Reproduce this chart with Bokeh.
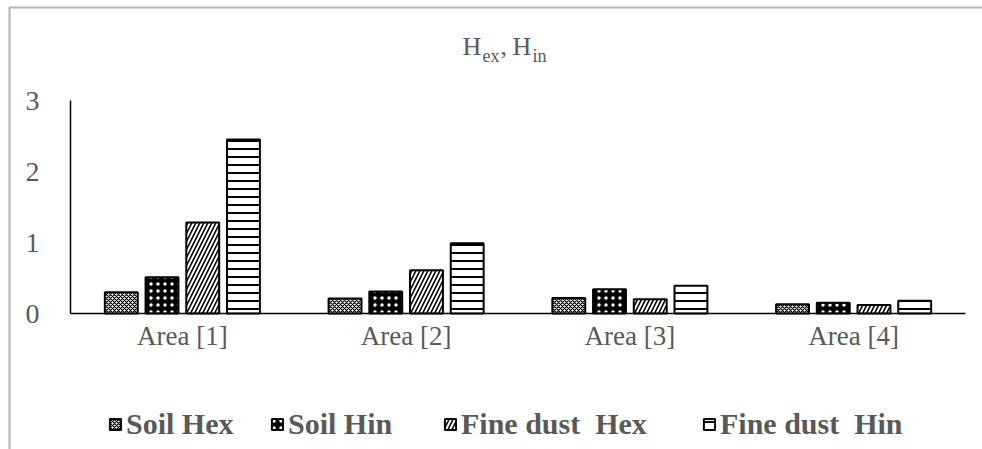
from bokeh.plotting import figure
from bokeh.models import (ColumnDataSource, Range1d, Legend, LegendItem,
                          Label, PolyAnnotation, FixedTicker)
from bokeh.transform import dodge
from bokeh.embed import file_html
from bokeh.resources import INLINE

areas = ["Area [1]", "Area [2]", "Area [3]", "Area [4]"]
soil_hex = [0.30, 0.21, 0.22, 0.13]
soil_hin = [0.51, 0.31, 0.34, 0.15]
fine_hex = [1.28, 0.61, 0.20, 0.12]
fine_hin = [2.45, 0.99, 0.39, 0.18]
series_names = ["Soil Hex", "Soil Hin", "Fine dust  Hex", "Fine dust  Hin"]
y_ticks = [0, 1, 2, 3]

xc = [i + 0.5 for i in range(len(areas))]
src = ColumnDataSource(dict(xc=xc, area=areas, soil_hex=soil_hex, soil_hin=soil_hin,
                            fine_hex=fine_hex, fine_hin=fine_hin))

FONT = "Liberation Serif"
GREY = "#595959"
W, H = 982, 449
# plot area (pixels) of the reference: x 70..965, y 100..313 (value 3..0)
px_x = (965 - 70) / len(areas)
px_y = (313 - 100) / 3.0

p = figure(width=W, height=H,
           x_range=Range1d(-70 / px_x, len(areas) + (W - 965) / px_x),
           y_range=Range1d(-(H - 313) / px_y, 3 + 100 / px_y),
           output_backend="svg", toolbar_location=None, min_border=0)
p.outline_line_color = None
p.xgrid.visible = False
p.ygrid.visible = False
p.background_fill_color = "white"
p.border_fill_color = "white"

styles = [
    dict(col="soil_hex", off=-0.273, fill_color="white", hatch_pattern="diagonal_cross",
         hatch_color="black", hatch_scale=4, hatch_weight=1.2),
    dict(col="soil_hin", off=-0.091, fill_color="black", hatch_pattern="dot",
         hatch_color="white", hatch_scale=7, hatch_weight=2),
    dict(col="fine_hex", off=0.091, fill_color="white", hatch_pattern="right_diagonal_line",
         hatch_color="black", hatch_scale=8, hatch_weight=1.6),
    dict(col="fine_hin", off=0.273, fill_color="white", hatch_pattern="horizontal_line",
         hatch_color="black", hatch_scale=8, hatch_weight=2),
]
# legend item positions (glyph left edge, px) as laid out in the reference
legend_x = [108, 270, 443, 702]
for name, st, lx in zip(series_names, styles, legend_x):
    r = p.vbar(x=dodge("xc", st["off"], range=p.x_range), top=st["col"], width=0.147,
               source=src, line_color="black", line_width=2,
               fill_color=st["fill_color"], hatch_pattern=st["hatch_pattern"],
               hatch_color=st["hatch_color"], hatch_scale=st["hatch_scale"],
               hatch_weight=st["hatch_weight"])
    lg = Legend(items=[LegendItem(label=name, renderers=[r])], location=(lx, 8),
                label_text_font=FONT, label_text_font_style="bold",
                label_text_font_size="30px", label_text_color=GREY,
                glyph_width=14, glyph_height=14, label_standoff=4,
                border_line_color=None, background_fill_alpha=0, margin=0, padding=0)
    p.add_layout(lg, "center")

# y axis
p.yaxis.fixed_location = 0
p.yaxis.bounds = (0, 3)
p.yaxis.ticker = FixedTicker(ticks=y_ticks)
p.yaxis.major_tick_line_color = None
p.yaxis.minor_tick_line_color = None
p.yaxis.axis_line_color = "black"
p.yaxis.axis_line_width = 1.5
p.yaxis.major_label_text_font = FONT
p.yaxis.major_label_text_font_size = "28px"
p.yaxis.major_label_text_color = GREY
p.yaxis.major_label_standoff = 25

# x axis (categories)
p.xaxis.fixed_location = 0
p.xaxis.bounds = (0, len(areas))
p.xaxis.ticker = FixedTicker(ticks=xc)
p.xaxis.major_label_overrides = {x: a for x, a in zip(xc, areas)}
p.xaxis.major_tick_line_color = None
p.xaxis.minor_tick_line_color = None
p.xaxis.axis_line_color = "black"
p.xaxis.axis_line_width = 1.5
p.xaxis.major_label_text_font = FONT
p.xaxis.major_label_text_font_size = "27px"
p.xaxis.major_label_text_color = GREY
p.xaxis.major_label_standoff = 1

# title "H_ex, H_in" with subscripts (screen units, frame == whole canvas)
title_parts = [("H", 462, 26, H - 46), ("ex", 482, 18, H - 55), (",", 500, 26, H - 46),
               ("H", 512, 26, H - 46), ("in", 532, 18, H - 55)]
for txt, x, size, y in title_parts:
    p.add_layout(Label(x=x, y=y, x_units="screen", y_units="screen", text=txt,
                       text_font=FONT, text_font_size=f"{size}px", text_color=GREY,
                       text_baseline="alphabetic"))

# outer chart border (top and left edges visible)
p.add_layout(PolyAnnotation(xs=[9, 9, W + 100, W + 100], ys=[-100, H - 7, H - 7, -100],
                            xs_units="screen", ys_units="screen",
                            fill_alpha=0, line_color="black", line_width=2))

open("out.html", "w").write(file_html(p, INLINE))
